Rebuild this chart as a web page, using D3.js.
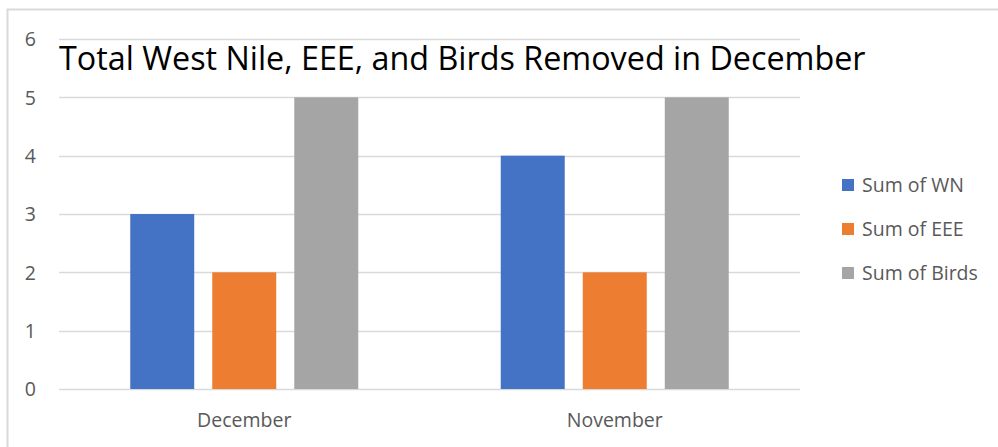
<!DOCTYPE html>
<html>
<head>
<meta charset="utf-8">
<script src="https://cdn.jsdelivr.net/npm/d3@7"></script>
<style>
  body { margin: 0; background: #fff; }
  text { font-family: "Open Sans", "Liberation Sans", sans-serif; }
</style>
</head>
<body>
<div id="chart"></div>
<script>
var months = ["December", "November"];
var seriesNames = ["Sum of WN", "Sum of EEE", "Sum of Birds"];
var wnValues = [3, 4];
var eeeValues = [2, 2];
var birdValues = [5, 5];
var yTicks = [0, 1, 2, 3, 4, 5, 6];
var colors = ["#4472c4", "#ed7d31", "#a5a5a5"];

var width = 998, height = 447;
var plot = { left: 59, right: 800, top: 39, bottom: 389 };
var labelSize = 19.5;

var svg = d3.select("#chart").append("svg")
    .attr("width", width)
    .attr("height", height);

// outer frame
svg.append("rect")
    .attr("x", 7.5).attr("y", 9.5)
    .attr("width", 1000).attr("height", 460)
    .attr("fill", "#fff")
    .attr("stroke", "#d9d9d9")
    .attr("stroke-width", 2);

var y = d3.scaleLinear()
    .domain([0, 6])
    .range([plot.bottom, plot.top]);

var x0 = d3.scaleBand()
    .domain(months)
    .range([plot.left, plot.right]);

var groupWidth = 228;
var x1 = d3.scaleBand()
    .domain(seriesNames)
    .range([0, groupWidth])
    .paddingInner(0.22);

// gridlines
svg.append("g").selectAll("line")
    .data(yTicks)
    .enter().append("line")
    .attr("x1", plot.left).attr("x2", plot.right)
    .attr("y1", function (d) { return Math.round(y(d)) + 0.5; })
    .attr("y2", function (d) { return Math.round(y(d)) + 0.5; })
    .attr("stroke", "#d9d9d9")
    .attr("stroke-width", 1.5);

// y labels
var yAxis = d3.axisLeft(y).tickValues(yTicks).tickFormat(d3.format("d")).tickSize(0).tickPadding(0);
var gy = svg.append("g")
    .attr("transform", "translate(" + 36 + ",0)")
    .call(yAxis);
gy.select(".domain").remove();
gy.selectAll("text")
    .attr("font-family", "Open Sans, Liberation Sans, sans-serif")
    .attr("font-size", labelSize)
    .attr("fill", "#595959")
    .attr("dy", "0.35em");

// bars
var rows = months.map(function (m, i) {
    return { month: m, values: [wnValues[i], eeeValues[i], birdValues[i]] };
});

var groups = svg.selectAll(".grp")
    .data(rows)
    .enter().append("g")
    .attr("transform", function (d) {
        return "translate(" + (x0(d.month) + x0.bandwidth() / 2 - groupWidth / 2) + ",0)";
    });

groups.selectAll("rect")
    .data(function (d) {
        return d.values.map(function (v, j) { return { name: seriesNames[j], value: v, idx: j }; });
    })
    .enter().append("rect")
    .attr("x", function (d) { return x1(d.name); })
    .attr("width", x1.bandwidth())
    .attr("y", function (d) { return y(d.value); })
    .attr("height", function (d) { return y(0) - y(d.value); })
    .attr("fill", function (d) { return colors[d.idx]; });

// x labels
var xAxis = d3.axisBottom(x0).tickSize(0).tickPadding(0);
var gx = svg.append("g")
    .attr("transform", "translate(0," + 420 + ")")
    .call(xAxis);
gx.select(".domain").remove();
gx.selectAll("text")
    .attr("font-family", "Open Sans, Liberation Sans, sans-serif")
    .attr("font-size", labelSize)
    .attr("fill", "#595959")
    .attr("dy", "0.35em");

// title
var title = svg.append("text")
    .attr("x", 59)
    .attr("y", 70)
    .attr("font-size", 32)
    .attr("fill", "#000")
    .text("Total West Nile, EEE, and Birds Removed in December");
var tw = title.node().getComputedTextLength();
title.attr("font-size", 32 * 807 / tw);

// legend
var legend = svg.append("g").selectAll("g")
    .data(seriesNames)
    .enter().append("g")
    .attr("transform", function (d, i) { return "translate(842," + (185 + i * 44) + ")"; });

legend.append("rect")
    .attr("x", 0).attr("y", -6)
    .attr("width", 12).attr("height", 12)
    .attr("fill", function (d, i) { return colors[i]; });

legend.append("text")
    .attr("x", 20)
    .attr("dy", "0.35em")
    .attr("font-size", labelSize)
    .attr("fill", "#595959")
    .text(function (d) { return d; });
</script>
</body>
</html>
